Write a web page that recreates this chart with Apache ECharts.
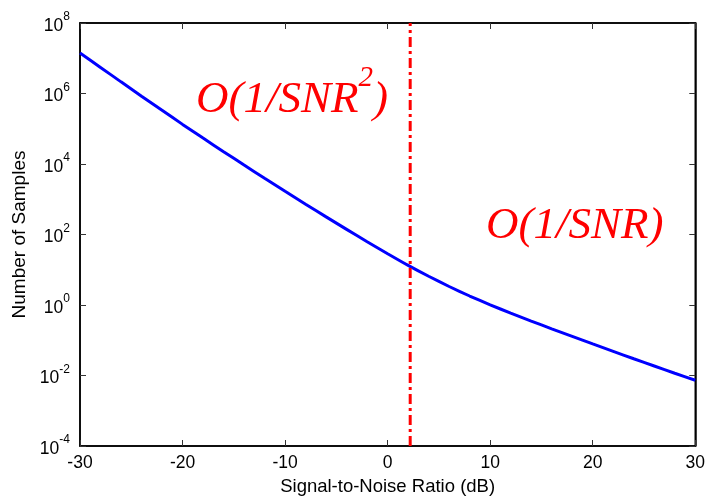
<!DOCTYPE html>
<html>
<head>
<meta charset="utf-8">
<script src="https://cdn.jsdelivr.net/npm/echarts@6/dist/echarts.min.js"></script>
<style>html,body{margin:0;padding:0;background:#fff}#c{width:708px;height:501px}</style>
</head>
<body>
<div id="c"></div>
<script>
const snrDb = [-30,-28,-26,-24,-22,-20,-18,-16,-14,-12,-10,-8,-6,-4,-2,0,2,4,6,8,10,12,14,16,18,20,22,24,26,28,30];
const samples = [1.41e7,5.50e6,2.14e6,8.41e5,3.35e5,1.33e5,5.43e4,2.24e4,9.33e3,3.94e3,1.68e3,724,316,140,62.4,28.5,13.3,6.53,3.35,1.80,1.01,0.589,0.351,0.211,0.129,0.0785,0.0484,0.0299,0.0186,0.0116,0.00733];
const boundaryDb = 2.2;
const xTicks = [-30,-20,-10,0,10,20,30];
const yExpTicks = [-4,-2,0,2,4,6,8];
const xTitle = 'Signal-to-Noise Ratio (dB)';
const yTitle = 'Number of Samples';
const lowLabel = 'O(1/SNR';
const highLabel = 'O(1/SNR)';

const chart = echarts.init(document.getElementById('c'), null, {renderer:'canvas'});
const font = 'Liberation Sans, Arial, sans-serif';
const serif = 'Liberation Serif, Times New Roman, serif';
const yMin = Math.pow(10, yExpTicks[0]);
const yMax = Math.pow(10, yExpTicks[yExpTicks.length-1]);
const axLine = {show:true, onZero:false, lineStyle:{color:'#000', width:1.5}};
const tickIn = {show:true, inside:true, length:6, lineStyle:{color:'#333', width:1}};
const expLabel = v => {
  const e = Math.round(Math.log10(v));
  return '{b|10}{s|' + e + '}';
};
chart.setOption({
  animation:false,
  backgroundColor:'#fff',
  grid:{left:80, right:12, top:23, bottom:54, show:true, borderColor:'#000', borderWidth:1.5},
  xAxis:[{
    type:'value', min:xTicks[0], max:xTicks[xTicks.length-1], interval:10,
    name:xTitle, nameLocation:'middle', nameGap:31,
    nameTextStyle:{fontFamily:font, fontSize:18.5, color:'#000'},
    axisLine:axLine, axisTick:tickIn, splitLine:{show:false},
    axisLabel:{fontFamily:font, fontSize:17.5, color:'#000', margin:8}
  },{
    type:'value', position:'top', min:xTicks[0], max:xTicks[xTicks.length-1], interval:10,
    axisLine:axLine, axisTick:tickIn, splitLine:{show:false}, axisLabel:{show:false}
  }],
  yAxis:[{
    type:'log', logBase:10, min:yMin, max:yMax, interval:2,
    name:yTitle, nameLocation:'middle', nameGap:51,
    nameTextStyle:{fontFamily:font, fontSize:19, color:'#000'},
    axisLine:axLine, axisTick:tickIn, splitLine:{show:false}, minorTick:{show:false},
    axisLabel:{formatter:expLabel, margin:10,
      rich:{b:{fontFamily:font, fontSize:17.5, color:'#000', padding:[6,0,0,0]},
            s:{fontFamily:font, fontSize:12, color:'#000', verticalAlign:'top', padding:[0,0,10,0]}}}
  },{
    type:'log', logBase:10, min:yMin, max:yMax, interval:2, position:'right',
    axisLine:axLine, axisTick:tickIn, splitLine:{show:false}, axisLabel:{show:false}
  }],
  series:[{
    type:'line', xAxisIndex:0, yAxisIndex:0, showSymbol:false, smooth:0.2,
    data:snrDb.map((d,i)=>[d, samples[i]]),
    lineStyle:{color:'#0000ff', width:3}, z:3
  },{
    type:'line', xAxisIndex:0, yAxisIndex:0, showSymbol:false,
    data:[[boundaryDb, yMin],[boundaryDb, yMax]],
    lineStyle:{color:'#ff0000', width:3, type:[10,4,3,4]}, z:4
  }],
  graphic:[{
    type:'text', left:196, top:64,
    style:{
      text:'{m|' + lowLabel + '}{p|2}{m|)}',
      rich:{
        m:{fontFamily:serif, fontStyle:'italic', fontSize:45, fill:'#ff0000', padding:[14,0,0,0]},
        p:{fontFamily:serif, fontStyle:'italic', fontSize:29, fill:'#ff0000', verticalAlign:'top', padding:[0,0,18,0]}
      }
    }
  },{
    type:'text', left:486, top:204,
    style:{text:highLabel, fontFamily:serif, fontStyle:'italic', fontSize:45, fill:'#ff0000'}
  }]
});
</script>
</body>
</html>
